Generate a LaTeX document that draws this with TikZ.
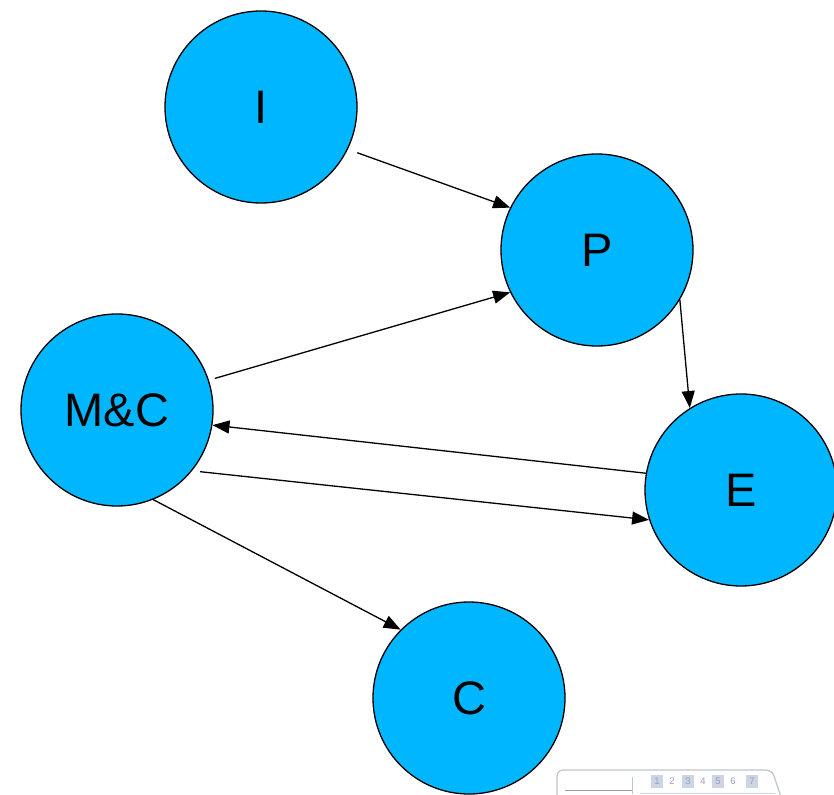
\documentclass[tikz,border=0pt]{standalone}
\usepackage{fontspec}
\setmainfont{Liberation Sans}
\usetikzlibrary{arrows.meta}
\definecolor{ballblue}{RGB}{0,182,255}
\definecolor{shotgray}{RGB}{190,196,204}
\definecolor{shotblue}{RGB}{150,160,190}
\definecolor{shotfill}{RGB}{205,212,228}
\begin{document}
\begin{tikzpicture}[x=1pt,y=-1pt,
  ball/.style={circle,draw=black,line width=1.3pt,fill=ballblue,minimum size=192pt,inner sep=0pt,font=\fontsize{47}{47}\selectfont},
  link/.style={line width=1.3pt,-{Triangle[length=17pt,width=13pt]}},
  numtxt/.style={font=\fontsize{9.5}{9.5}\selectfont,text=shotblue,inner sep=1pt}]
\useasboundingbox (0,0) rectangle (834,794);
\clip (0,0) rectangle (834,794);
% screenshot fragment bottom right
\draw[shotgray,line width=1.2pt,rounded corners=6pt] (557,800) -- (557,770) -- (772,770) -- (782,800);
\draw[shotgray!80!black,line width=1pt] (565,790) -- (632,790);
\draw[shotgray,line width=1pt] (632,777) -- (632,794);
\foreach \n/\x in {1/657,2/672,3/688,4/703,5/718,6/733,7/752}{
  \ifodd\n \fill[shotfill] (\x-6,775) rectangle (\x+6,788); \fi
  \node[numtxt] (num\n) at (\x,781) {\n};
}
\fill[shotfill] (640,793) rectangle (775,794);
% circles
\node[ball] (I) at (261,107) {I};
\node[ball] (P) at (597,250) {P};
\node[ball] (M) at (117,410) {M\&C};
\node[ball] (E) at (741,490) {E};
\node[ball] (C) at (469,698) {C};
% connectors
\draw[link,shorten <=10pt] (I.-26) -- (P.154);
\draw[link,shorten <=6pt] (M.18) -- (P.206);
\draw[link] (P.-31) -- (E.122);
\draw[link] (E.170) -- (M.-9);
\draw[link,shorten <=8pt] (M.-39) -- (E.198);
\draw[link] (M.-68) -- (C.135);
\end{tikzpicture}
\end{document}
